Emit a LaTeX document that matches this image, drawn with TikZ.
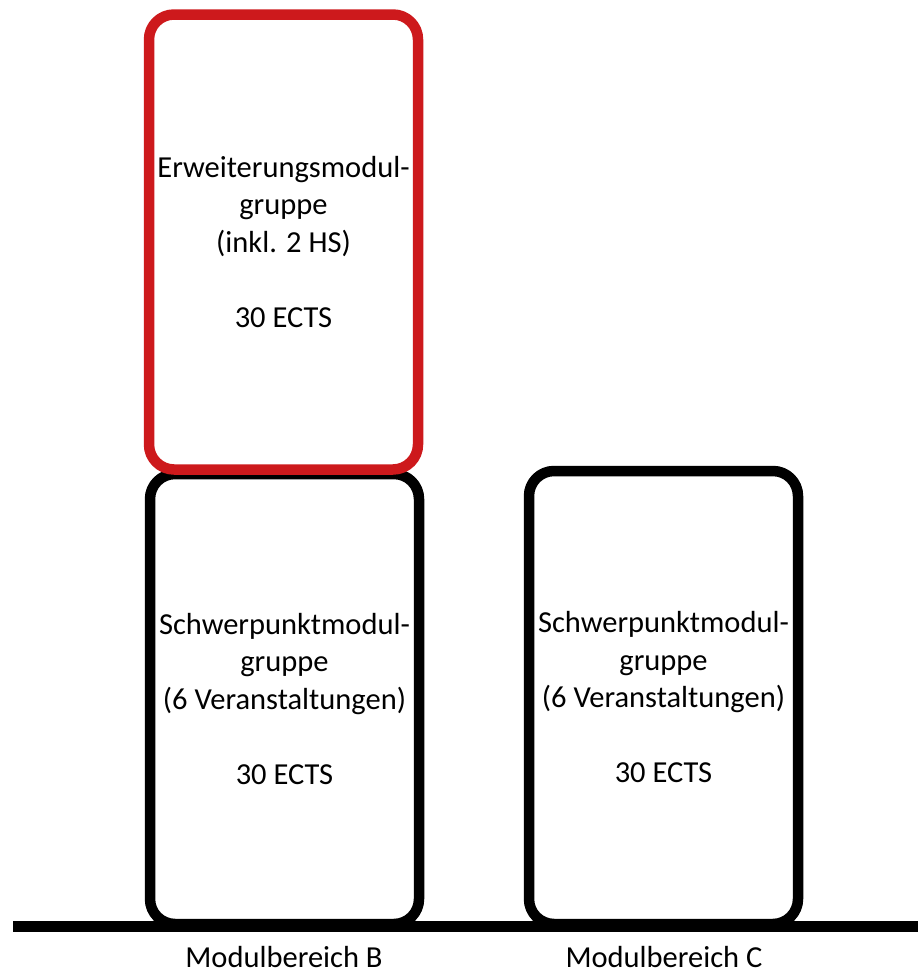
\documentclass[tikz,border=0pt]{standalone}
\usepackage{fontspec}
\setmainfont{Carlito}
\usepackage{xcolor}
\usetikzlibrary{calc}
\definecolor{modulred}{RGB}{205,25,28}

\begin{document}
\begin{tikzpicture}
    % one unit = one pixel of the sketch, y grows downwards
    [line join=round,x={(1pt,0pt)},y={(0pt,-1pt)},
     modulbox/.style={draw,line width=10.5pt,rounded corners=25pt,
       minimum width=269pt,inner sep=0pt,align=center,
       font=\fontsize{30.5}{37.5}\selectfont},
     bereich/.style={font=\fontsize{30.5}{37.5}\selectfont,inner sep=0pt,anchor=base}]

    \useasboundingbox (0,0) rectangle (918,975);

    \coordinate (L) at ( 13, 926);
    \coordinate (R) at (918, 926);

    \node[modulbox,minimum height=450pt] (schwerB) at (284.5, 699)
      {Schwerpunktmodul-\\gruppe\\(6 Veranstaltungen)\\[37.5pt]30 ECTS};
    \node[modulbox,minimum height=453pt] (schwerC) at (663.5, 697.5)
      {Schwerpunktmodul-\\gruppe\\(6 Veranstaltungen)\\[37.5pt]30 ECTS};
    \node[modulbox,draw=modulred,minimum height=455pt] (erweiterung) at (283.5, 242)
      {Erweiterungsmodul-\\gruppe\\(inkl. 2 HS)\\[37.5pt]30 ECTS};

    \draw[line width=11pt] (L) -- (R);

    \node[bereich] (bereichB) at (284, 967) {Modulbereich B};
    \node[bereich] (bereichC) at (664, 967) {Modulbereich C};
  \end{tikzpicture}
\end{document}
